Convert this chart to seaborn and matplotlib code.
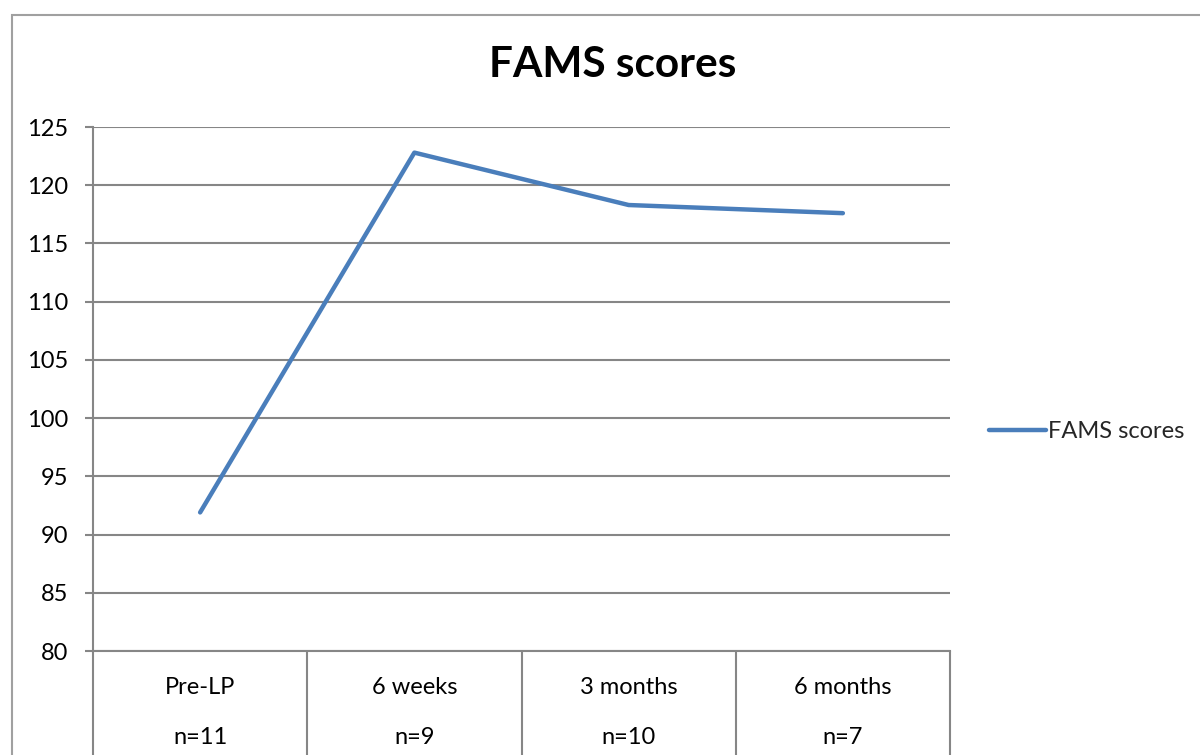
import matplotlib
matplotlib.use("Agg")
import matplotlib.pyplot as plt
import seaborn as sns
import pandas as pd
from matplotlib.patches import Rectangle

# ---- data ----
categories = ["Pre-LP", "6 weeks", "3 months", "6 months"]
sample_sizes = ["n=11", "n=9", "n=10", "n=7"]
fams_scores = [91.9, 122.8, 118.3, 117.6]
y_ticks = [80, 85, 90, 95, 100, 105, 110, 115, 120, 125]
series_name = "FAMS scores"
title = "FAMS scores"

sns.set_theme(style="white")
plt.rcParams['font.family'] = ['Lato', 'DejaVu Sans']

W, H = 1200, 755
fig = plt.figure(figsize=(12, 7.55), dpi=100)
ax = fig.add_axes([93 / W, 1 - 651 / H, (950 - 93) / W, (651 - 127) / H])

df = pd.DataFrame({"Time": categories, "Score": fams_scores})
sns.lineplot(data=df, x="Time", y="Score", color="#4a7ebb", linewidth=3.2,
             label=series_name, ax=ax, sort=False,
             solid_capstyle="round", solid_joinstyle="round")

grid_c = "#868686"
fs = 17
ax.set_xlim(-0.5, len(categories) - 0.5)
ax.set_ylim(min(y_ticks), max(y_ticks))
ax.set_yticks(y_ticks)
ax.set_yticklabels([str(v) for v in y_ticks])
ax.yaxis.grid(True, color=grid_c, linewidth=1.5)
ax.xaxis.grid(False)
ax.set_axisbelow(True)

for s in ["top", "right"]:
    ax.spines[s].set_visible(False)
for s in ["left", "bottom"]:
    ax.spines[s].set_color(grid_c)
    ax.spines[s].set_linewidth(1.5)

ax.tick_params(axis="y", which="major", left=True, length=6, width=1.5,
               color=grid_c, direction="out", pad=12, labelsize=fs,
               labelcolor="black")

ax.set_xticks(range(len(categories)))
ax.set_xticklabels([f"{c}\n\n{n}" for c, n in zip(categories, sample_sizes)],
                   linespacing=1.23)
ax.set_xticks([i - 0.5 for i in range(len(categories) + 1)], minor=True)
ax.tick_params(axis="x", which="major", bottom=True, length=0, pad=19,
               labelsize=fs, labelcolor="black")
ax.tick_params(axis="x", which="minor", bottom=True, length=90, width=1.5,
               color=grid_c, direction="out")
ax.set_xlabel("")
ax.set_ylabel("")

ax.legend(loc="center left", bbox_to_anchor=(989 / W, 1 - 432 / H),
          bbox_transform=fig.transFigure, frameon=False, handlelength=2.4,
          handletextpad=0.1, fontsize=fs, borderpad=0, borderaxespad=0)

fig.text(613 / W, 1 - 65 / H, title, ha="center", va="center",
         fontsize=30.5, fontweight="bold", color="black")

fig.add_artist(Rectangle((11.5 / W, -0.2), 1.5, 1.2 - 14.5 / H,
                         transform=fig.transFigure, fill=False,
                         edgecolor="#a0a0a0", linewidth=1.5, clip_on=False))

fig.savefig("out.png", dpi=100)
